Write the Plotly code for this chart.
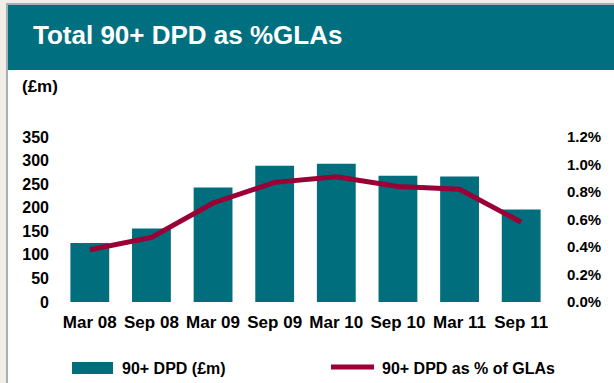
import plotly.graph_objects as go

# Reporting periods
periods = ["Mar 08", "Sep 08", "Mar 09", "Sep 09", "Mar 10", "Sep 10", "Mar 11", "Sep 11"]
# 90+ days past due balances (GBP m)
dpd_gbp_m = [125, 156, 243, 289, 293, 268, 266, 196]
# 90+ DPD as a percentage of gross loans and advances
dpd_pct_glas = [0.38, 0.47, 0.72, 0.87, 0.91, 0.84, 0.82, 0.58]

left_ticks = [0, 50, 100, 150, 200, 250, 300, 350]
right_ticks = [0.0, 0.2, 0.4, 0.6, 0.8, 1.0, 1.2]
right_tick_labels = ["0.0%", "0.2%", "0.4%", "0.6%", "0.8%", "1.0%", "1.2%"]

TEAL = "#006E7D"
CRIMSON = "#9A0036"
FONT = "Liberation Sans, Arial, sans-serif"

W, H = 614, 383
L, R, T, B = 59, 552, 137, 302


def fx(x):
    return (x - L) / (R - L)


def fy(y):
    return (B - y) / (B - T)


fig = go.Figure()
fig.add_trace(go.Bar(
    x=periods, y=dpd_gbp_m, marker=dict(color=TEAL, line=dict(width=0)),
    name="90+ DPD (£m)", yaxis="y",
))
fig.add_trace(go.Scatter(
    x=periods, y=dpd_pct_glas, mode="lines",
    line=dict(color=CRIMSON, width=5), name="90+ DPD as % of GLAs", yaxis="y2",
))

shapes = [
    # page frame
    dict(type="rect", xref="paper", yref="paper", x0=fx(0), x1=fx(W), y0=fy(0), y1=fy(3),
         fillcolor="#F1EEE7", line=dict(width=0), layer="below"),
    dict(type="rect", xref="paper", yref="paper", x0=fx(0), x1=fx(6), y0=fy(0), y1=fy(H),
         fillcolor="#F1EEE7", line=dict(width=0), layer="below"),
    dict(type="rect", xref="paper", yref="paper", x0=fx(6), x1=fx(W), y0=fy(3), y1=fy(5),
         fillcolor="#A9AEB2", line=dict(width=0), layer="below"),
    dict(type="rect", xref="paper", yref="paper", x0=fx(6), x1=fx(8), y0=fy(3), y1=fy(H),
         fillcolor="#A9AEB2", line=dict(width=0), layer="below"),
    # header band
    dict(type="rect", xref="paper", yref="paper", x0=fx(8), x1=fx(W), y0=fy(5), y1=fy(70),
         fillcolor="#007080", line=dict(width=0), layer="below"),
    # legend swatches
    dict(type="rect", xref="paper", yref="paper", x0=fx(72), x1=fx(113), y0=fy(362), y1=fy(374),
         fillcolor=TEAL, line=dict(width=0)),
    dict(type="line", xref="paper", yref="paper", x0=fx(331), x1=fx(374), y0=fy(367), y1=fy(367),
         line=dict(color=CRIMSON, width=5)),
]

annotations = [
    dict(text="<b>Total 90+ DPD as %GLAs</b>", xref="paper", yref="paper",
         x=fx(31), y=fy(35), xanchor="left", yanchor="middle", showarrow=False,
         font=dict(family=FONT, size=26, color="white")),
    dict(text="<b>(£m)</b>", xref="paper", yref="paper",
         x=fx(20), y=fy(86), xanchor="left", yanchor="middle", showarrow=False,
         font=dict(family=FONT, size=17, color="black")),
    dict(text="<b>90+ DPD (£m)</b>", xref="paper", yref="paper",
         x=fx(120), y=fy(368), xanchor="left", yanchor="middle", showarrow=False,
         font=dict(family=FONT, size=16, color="black")),
    dict(text="<b>90+ DPD as % of GLAs</b>", xref="paper", yref="paper",
         x=fx(380), y=fy(368), xanchor="left", yanchor="middle", showarrow=False,
         font=dict(family=FONT, size=16, color="black")),
]

fig.update_layout(
    width=W, height=H,
    margin=dict(l=L, r=W - R, t=T, b=H - B, pad=0),
    paper_bgcolor="white", plot_bgcolor="white",
    showlegend=False, bargap=0.37,
    font=dict(family=FONT, color="black"),
    xaxis=dict(showgrid=False, showline=False, zeroline=False, ticks="",
               tickfont=dict(family=FONT, size=17, color="black", weight="bold"),
               ticklabelstandoff=8),
    yaxis=dict(range=[0, 350], tickvals=left_ticks, showgrid=False, showline=False,
               zeroline=False, ticks="",
               tickfont=dict(family=FONT, size=16, color="black", weight="bold"),
               ticklabelstandoff=9),
    yaxis2=dict(range=[0, 1.2], tickvals=right_ticks, ticktext=right_tick_labels,
                overlaying="y", side="right", showgrid=False, showline=False,
                zeroline=False, ticks="",
                tickfont=dict(family=FONT, size=15, color="black", weight="bold"),
                ticklabelstandoff=14),
    shapes=shapes, annotations=annotations,
)

fig.write_html("out.html")
